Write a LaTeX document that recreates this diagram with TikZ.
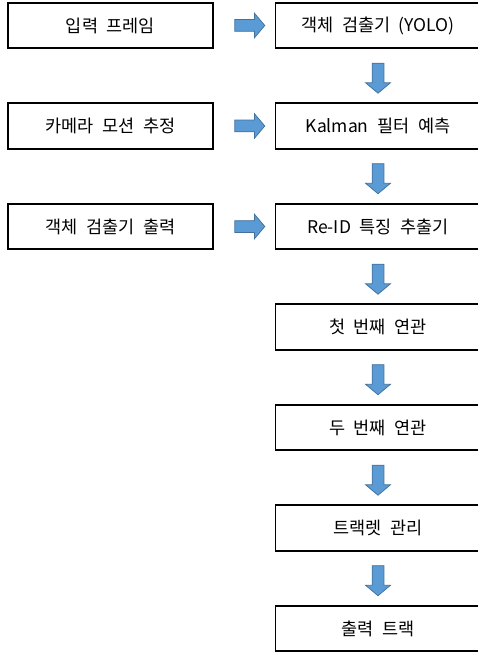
\documentclass[tikz,border=0pt]{standalone}
\usepackage{fontspec}
\setmainfont{Noto Sans CJK KR}[WordSpace=2.2]
\usetikzlibrary{shapes.arrows}
\definecolor{arrowfill}{HTML}{5B9BD5}
\definecolor{arrowline}{HTML}{41719C}

\begin{document}
\begin{tikzpicture}[x=1pt,y=-1pt]
\useasboundingbox (0,0) rectangle (478,655);
\begin{scope}[every node/.style={draw,line width=1.6pt,minimum width=205pt,minimum height=45.5pt,font=\fontsize{17.5}{20}\selectfont}]
\node (frame) at (110.5,25.5) {입력 프레임};
\node (cam) at (110.5,126) {카메라 모션 추정};
\node (detout) at (110.5,226.5) {객체 검출기 출력};
\node (yolo) at (378,25.5) {객체 검출기 (YOLO)};
\node (kalman) at (378,126) {Kalman 필터 예측};
\node (reid) at (378,226.5) {Re-ID 특징 추출기};
\node (asso1) at (378,327) {첫 번째 연관};
\node (asso2) at (378,427.5) {두 번째 연관};
\node (tracklet) at (378,528) {트랙렛 관리};
\node (out) at (378,628.5) {출력 트랙};
\end{scope}

\begin{scope}[every node/.style={single arrow,draw=arrowline,fill=arrowfill,line width=0.75pt,inner sep=5.5pt,minimum height=30pt,single arrow head extend=6.5pt,single arrow head indent=0pt,single arrow tip angle=100}]
\path (frame) -- node[pos=0.55] {} (yolo);
\path (cam) -- node[pos=0.55] {} (kalman);
\path (detout) -- node[pos=0.55] {} (reid);
\path (yolo) -- node[shape border rotate=270] {} (kalman);
\path (kalman) -- node[shape border rotate=270] {} (reid);
\path (reid) -- node[shape border rotate=270] {} (asso1);
\path (asso1) -- node[shape border rotate=270] {} (asso2);
\path (asso2) -- node[shape border rotate=270] {} (tracklet);
\path (tracklet) -- node[shape border rotate=270] {} (out);
\end{scope}
\end{tikzpicture}
\end{document}
